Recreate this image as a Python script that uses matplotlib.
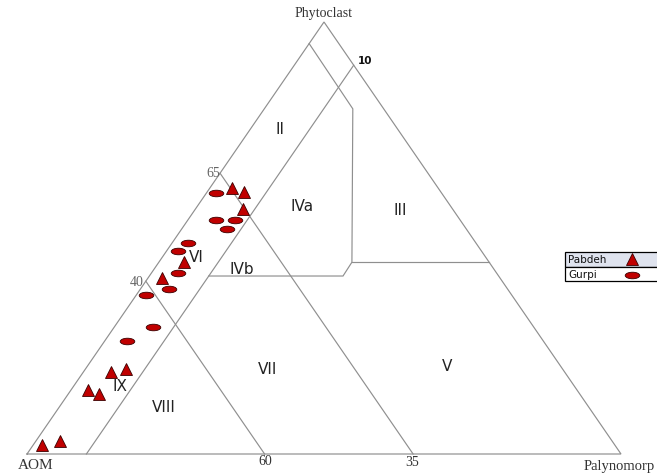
import numpy as np
import matplotlib
matplotlib.use('Agg')
import matplotlib.pyplot as plt
from matplotlib.path import Path
from matplotlib.patches import Rectangle

# composition of samples in percent (AOM, Phytoclast, Palynomorph)
pabdeh_phyto = [61.6, 60.6, 56.7, 44.4, 40.7, 19.7, 19.0, 14.8, 13.9, 3.0, 2.1]
pabdeh_palyno = [3.7, 6.2, 8.0, 4.2, 2.4, 6.8, 4.6, 2.9, 5.2, 4.1, 1.5]
pabdeh_aom = [100 - p - q for p, q in zip(pabdeh_phyto, pabdeh_palyno)]

gurpi_phyto = [60.4, 54.2, 54.2, 52.1, 48.8, 47.0, 41.9, 38.2, 36.8, 29.4, 26.2]
gurpi_palyno = [1.6, 4.7, 7.9, 7.6, 2.7, 1.9, 4.5, 4.8, 1.6, 6.5, 3.8]
gurpi_aom = [100 - p - q for p, q in zip(gurpi_phyto, gurpi_palyno)]

# field boundaries, each as list of (AOM, Phyto, Palyno) points
boundaries = [
    [(100, 0, 0), (0, 100, 0), (0, 0, 100), (100, 0, 0)],
    [(35, 65, 0), (35, 0, 65)],
    [(60, 40, 0), (60, 0, 40)],
    [(90, 0, 10), (0, 90, 10)],
    [(5, 95, 0), (5.2, 79.9, 14.9), (23.1, 44.4, 32.5), (26.2, 41.2, 32.6), (48.8, 41.2, 10)],
    [(23.1, 44.4, 32.5), (0, 44.4, 55.6)],
]

field_names = ['II', 'IVa', 'III', 'IVb', 'VI', 'VII', 'V', 'IX', 'VIII']
field_pos = [(280, 130), (302, 207), (400, 211), (242, 270), (196, 258),
             (268, 370), (447, 367), (120, 387), (164, 408)]

# corner positions on the canvas
A_XY = (27, 455)
P_XY = (324, 23)
M_XY = (621, 455)


def tern(aom, phy, pal):
    aom = np.asarray(aom, float) / 100
    phy = np.asarray(phy, float) / 100
    pal = np.asarray(pal, float) / 100
    x = aom * A_XY[0] + phy * P_XY[0] + pal * M_XY[0]
    y = aom * A_XY[1] + phy * P_XY[1] + pal * M_XY[1]
    return x, y


fig = plt.figure(figsize=(6.57, 4.77), dpi=100)
ax = fig.add_axes([0, 0, 1, 1])
ax.set_xlim(0, 657)
ax.set_ylim(477, 0)
ax.axis('off')

line_col = '#8f8f8f'
for seg in boundaries:
    a, p, m = zip(*seg)
    x, y = tern(a, p, m)
    ax.plot(x, y, color=line_col, lw=0.85, solid_joinstyle='miter')

serif = 'Liberation Serif'
ax.text(324, 14, 'Phytoclast', fontsize=10, family=serif, color='#333333', ha='center', va='center')
ax.text(36, 466, 'AOM', fontsize=11, family=serif, color='#333333', ha='center', va='center')
ax.text(655, 467, 'Palynomorp', fontsize=10.5, family=serif, color='#333333', ha='right', va='center')
ax.text(213, 174, '65', fontsize=10, family=serif, color='#666666', ha='center', va='center')
ax.text(137, 283, '40', fontsize=10, family=serif, color='#666666', ha='center', va='center')
ax.text(265, 462, '60', fontsize=10, family=serif, color='#333333', ha='center', va='center')
ax.text(412, 463, '35', fontsize=10, family=serif, color='#333333', ha='center', va='center')
ax.text(365, 61, '10', fontsize=7.5, fontweight='bold', color='#111111', ha='center', va='center')

for name, (x, y) in zip(field_names, field_pos):
    ax.text(x, y, name, fontsize=11, color='#222222', ha='center', va='center')

circ = Path.unit_circle()
ellipse = Path(circ.vertices * np.array([1.0, 0.45]), circ.codes)
red = '#c00000'
edge = '#3a0000'

x, y = tern(gurpi_aom, gurpi_phyto, gurpi_palyno)
ax.plot(x, y, ls='none', marker=ellipse, ms=10.5, mfc=red, mec=edge, mew=0.6)
x, y = tern(pabdeh_aom, pabdeh_phyto, pabdeh_palyno)
ax.plot(x, y, ls='none', marker='^', ms=8, mfc=red, mec=edge, mew=0.6)

# legend box
ax.add_patch(Rectangle((565, 253), 100, 15, facecolor='#dfe3ee', edgecolor='black', lw=0.9, clip_on=False))
ax.add_patch(Rectangle((565, 268), 100, 14, facecolor='white', edgecolor='black', lw=0.9, clip_on=False))
ax.text(568, 260.5, 'Pabdeh', fontsize=7.5, color='#111111', ha='left', va='center')
ax.text(568, 275, 'Gurpi', fontsize=7.5, color='#111111', ha='left', va='center')
ax.plot([632], [260], ls='none', marker='^', ms=8, mfc=red, mec=edge, mew=0.6)
ax.plot([632], [276], ls='none', marker=ellipse, ms=10.5, mfc=red, mec=edge, mew=0.6)

fig.savefig('out.png', dpi=100)
